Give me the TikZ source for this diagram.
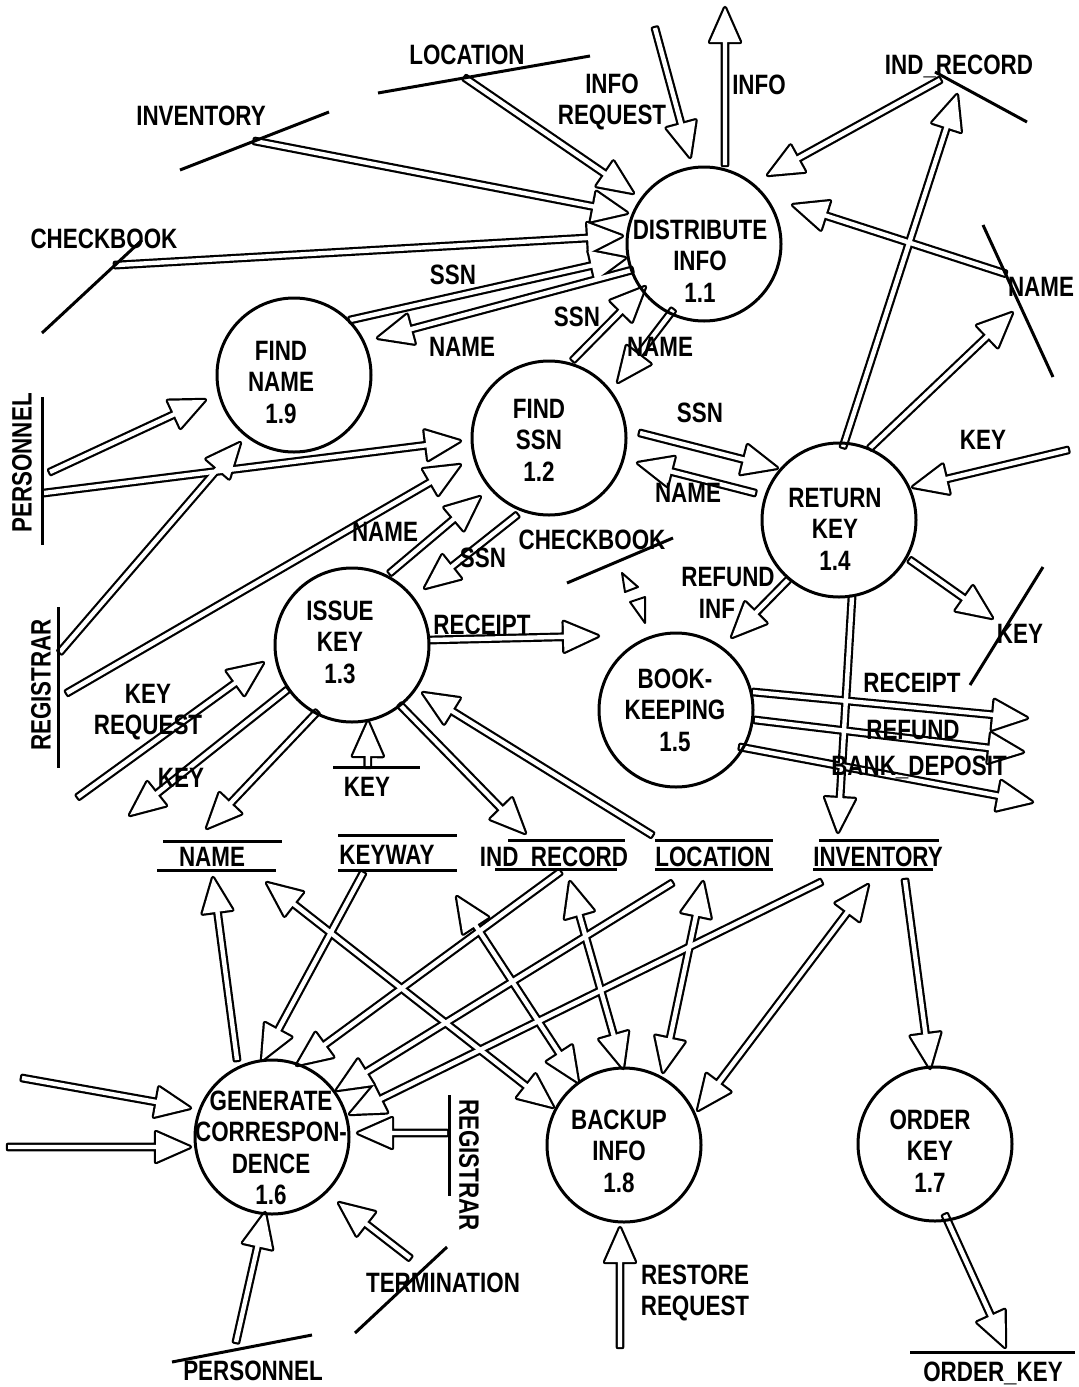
\documentclass[tikz,border=0pt]{standalone}
\usepackage{fontspec}
\newfontfamily\dfd{Liberation Sans}[FakeStretch=0.8, UprightFont=* Bold]
\usetikzlibrary{calc}
\pgfdeclarelayer{back}
\pgfdeclarelayer{flows}
\pgfsetlayers{back,flows,main}

% hollow flow arrows: shaft half width, head half width, head length
\def\aSW{1.1pt}
\def\aHW{7.5pt}
\def\aHL{17pt}

% single-headed hollow arrow from #1 to #2
\newcommand\flowarrow[2]{%
  \coordinate (hA) at (#1);
  \coordinate (hB) at (#2);
  \coordinate (hC) at ($(hB)!\aHL!(hA)$);
  \path[apass] ($(hA)!\aSW!90:(hB)$) -- ($(hC)!\aSW!90:(hB)$) -- ($(hC)!\aHW!90:(hB)$)
    -- (hB) -- ($(hC)!\aHW!-90:(hB)$) -- ($(hC)!\aSW!-90:(hB)$) -- ($(hA)!\aSW!-90:(hB)$) -- cycle;}

% double-headed hollow arrow between #1 and #2
\newcommand\flowboth[2]{%
  \coordinate (hA) at (#1);
  \coordinate (hB) at (#2);
  \coordinate (hC) at ($(hB)!\aHL!(hA)$);
  \coordinate (hD) at ($(hA)!\aHL!(hB)$);
  \path[apass] (hA) -- ($(hD)!\aHW!90:(hB)$) -- ($(hD)!\aSW!90:(hB)$) -- ($(hC)!\aSW!90:(hB)$)
    -- ($(hC)!\aHW!90:(hB)$) -- (hB) -- ($(hC)!\aHW!-90:(hB)$) -- ($(hC)!\aSW!-90:(hB)$)
    -- ($(hD)!\aSW!-90:(hB)$) -- ($(hD)!\aHW!-90:(hB)$) -- cycle;}

% all data flows of the diagram
\newcommand\allflows{%
 \flowarrow{loc1}{$(p11)+(-71,-51)$}%
 \flowarrow{inv1}{$(p11)+(-77,-31)$}%
 \flowarrow{chk1}{$(p11)+(-82,-8)$}%
 \flowarrow{$(p19)+(56,-55)$}{$(p11)+(-79,14)$}%
 \flowarrow{$(p11)+(-72,26)$}{$(p19)+(84,-37)$}%
 \flowarrow{ireq}{$(p11)+(-14,-87)$}%
 \flowarrow{$(p11)+(21,-79)$}{iout}%
 \flowarrow{ind1}{$(p11)+(64,-69)$}%
 \flowarrow{nam1}{$(p11)+(89,-39)$}%
 \flowarrow{$(p14)+(4,-73)$}{ind2}%
 \flowarrow{$(p14)+(31,-72)$}{nam2}%
 \flowarrow{key1}{$(p14)+(74,-33)$}%
 \flowarrow{$(p14)+(71,40)$}{key2}%
 \flowarrow{$(p14)+(-51,60)$}{$(p15)+(56,-73)$}%
 \flowarrow{$(p14)+(13,77)$}{inv2}%
 \flowarrow{$(p15)+(77,-18)$}{rcp}%
 \flowarrow{$(p15)+(79,10)$}{rfd}%
 \flowarrow{$(p15)+(64,37)$}{bnk}%
 \flowarrow{$(p12)+(91,-5)$}{$(p14)+(-62,-52)$}%
 \flowarrow{$(p14)+(-84,-27)$}{$(p12)+(89,25)$}%
 \flowarrow{$(p12)+(24,-78)$}{$(p11)+(-59,43)$}%
 \flowarrow{$(p11)+(-31,66)$}{$(p12)+(69,-56)$}%
 \flowarrow{per1}{$(p19)+(-89,25)$}%
 \flowarrow{per2}{$(p12)+(-89,3)$}%
 \flowarrow{reg1}{$(p19)+(-54,68)$}%
 \flowarrow{reg2}{$(p12)+(-89,27)$}%
 \flowarrow{$(p13)+(38,-72)$}{$(p12)+(-69,59)$}%
 \flowarrow{$(p12)+(-32,77)$}{$(p13)+(73,-57)$}%
 \flowarrow{kreq}{$(p13)+(-89,18)$}%
 \flowarrow{$(p13)+(-65,45)$}{kout}%
 \flowarrow{$(p13)+(-35,67)$}{nam3}%
 \flowarrow{key3}{$(p13)+(16,77)$}%
 \flowarrow{$(p13)+(48,60)$}{ind3}%
 \flowarrow{loc2}{$(p13)+(71,48)$}%
 \flowarrow{$(p13)+(78,-5)$}{$(p15)+(-78,-74)$}%
 \flowarrow{$(p16)+(-35,-77)$}{nam4}%
 \flowarrow{kw1}{$(p16)+(-10,-77)$}%
 \flowboth{nam5}{$(p18)+(-71,-38)$}%
 \flowboth{kw2}{$(p18)+(-46,-63)$}%
 \flowarrow{ind4}{$(p16)+(25,-72)$}%
 \flowboth{ind5}{$(p18)+(-1,-77)$}%
 \flowarrow{loc3}{$(p16)+(65,-47)$}%
 \flowboth{loc4}{$(p18)+(39,-73)$}%
 \flowarrow{inv3}{$(p16)+(78,-23)$}%
 \flowboth{inv4}{$(p18)+(74,-35)$}%
 \flowarrow{inv5}{$(p17)+(-5,-76)$}%
 \flowarrow{$(p17)+(10,71)$}{okey}%
 \flowarrow{rreq}{$(p18)+(-4,83)$}%
 \flowarrow{reg3}{$(p16)+(86,-4)$}%
 \flowarrow{term}{$(p16)+(67,66)$}%
 \flowarrow{per3}{$(p16)+(-7,76)$}%
 \flowarrow{lin1}{$(p16)+(-82,-29)$}%
 \flowarrow{lin2}{$(p16)+(-82,10)$}%
}

\begin{document}
\begin{tikzpicture}[x=0.5pt,y=-0.5pt,
  proc/.style={circle, draw, line width=1.5pt, minimum size=77pt, inner sep=0pt, outer sep=0pt},
  lbl/.style={font=\dfd\fontsize{14}{15.75}\selectfont, inner sep=0pt, align=center},
  storeline/.style={line width=1.5pt},
  tinyhead/.style={draw, fill=white, line width=1pt, line join=round}]

\begin{pgfonlayer}{back}
  \fill[white] (0,0) rectangle (1078,1387);
\end{pgfonlayer}
\useasboundingbox (0,0) rectangle (1078,1387);

% processes
\node[proc] (p11) at (704,244) {};
\node[proc] (p19) at (294,375) {};
\node[proc] (p12) at (549,438) {};
\node[proc] (p14) at (839,520) {};
\node[proc] (p13) at (352,645) {};
\node[proc] (p15) at (676,710) {};
\node[proc] (p16) at (272,1137) {};
\node[proc] (p18) at (624,1145) {};
\node[proc] (p17) at (935,1144) {};

\node[lbl] (t11) at (700,261) {DISTRIBUTE\\INFO\\1.1};
\node[lbl] (t19) at (281,382) {FIND\\NAME\\1.9};
\node[lbl] (t12) at (539,440) {FIND\\SSN\\1.2};
\node[lbl] (t14) at (835,529) {RETURN\\KEY\\1.4};
\node[lbl] (t13) at (340,642) {ISSUE\\KEY\\1.3};
\node[lbl] (t15) at (675,710) {BOOK-\\KEEPING\\1.5};
\node[lbl] (t16) at (271,1148) {GENERATE\\CORRESPON-\\DENCE\\1.6};
\node[lbl] (t18) at (619,1151) {BACKUP\\INFO\\1.8};
\node[lbl] (t17) at (930,1151) {ORDER\\KEY\\1.7};

% stores, sources and sinks
\coordinate (locA) at (378,93);  \coordinate (locB) at (590,56);
\coordinate (invA) at (180,170); \coordinate (invB) at (329,112);
\coordinate (chkA) at (42,333);  \coordinate (chkB) at (142,240);
\coordinate (indA) at (935,72);  \coordinate (indB) at (1027,122);
\coordinate (namA) at (983,225); \coordinate (namB) at (1053,377);
\coordinate (keyA) at (970,685); \coordinate (keyB) at (1043,567);
\coordinate (perA) at (42,397);  \coordinate (perB) at (42,545);
\coordinate (regA) at (58,607);  \coordinate (regB) at (58,768);
\coordinate (keyC) at (333,767); \coordinate (keyD) at (420,767);
\coordinate (chmA) at (567,583); \coordinate (chmB) at (673,538);
\coordinate (rgrA) at (449,1095); \coordinate (rgrB) at (449,1196);
\coordinate (trmA) at (355,1333); \coordinate (trmB) at (447,1247);
\coordinate (pbtA) at (172,1362); \coordinate (pbtB) at (312,1335);
\coordinate (okA) at (910,1352); \coordinate (okB) at (1075,1352);

\draw[storeline] (locA) -- (locB);
\draw[storeline] (invA) -- (invB);
\draw[storeline] (chkA) -- (chkB);
\draw[storeline] (indA) -- (indB);
\draw[storeline] (namA) -- (namB);
\draw[storeline] (keyA) -- (keyB);
\draw[storeline] (perA) -- (perB);
\draw[storeline] (regA) -- (regB);
\draw[storeline] (keyC) -- (keyD);
\draw[storeline] (chmA) -- (chmB);
\draw[storeline] (rgrA) -- (rgrB);
\draw[storeline] (trmA) -- (trmB);
\draw[storeline] (pbtA) -- (pbtB);
\draw[storeline] (okA) -- (okB);

% bottom row of data stores
\draw[storeline] (163,841) -- (282,841);  \draw[storeline] (157,870) -- (276,870);
\draw[storeline] (338,835) -- (457,835);  \draw[storeline] (338,870) -- (457,870);
\draw[storeline] (508,840) -- (625,840);  \draw[storeline] (495,869) -- (617,869);
\draw[storeline] (655,840) -- (773,840);  \draw[storeline] (655,869) -- (773,869);
\draw[storeline] (819,840) -- (939,840);  \draw[storeline] (813,869) -- (933,869);

% flow end points
\coordinate (loc1) at ($(locA)!0.41!(locB)$);
\coordinate (inv1) at ($(invA)!0.5!(invB)$);
\coordinate (chk1) at ($(chkA)!0.73!(chkB)$);
\coordinate (ireq) at (655,28);
\coordinate (iout) at (725,8);
\coordinate (ind1) at (940,80);
\coordinate (ind2) at (957,95);
\coordinate (nam1) at ($(namA)!0.32!(namB)$);
\coordinate (nam2) at (1012,313);
\coordinate (key1) at (1068,450);
\coordinate (key2) at (992,618);
\coordinate (rcp) at (1027,718);
\coordinate (rfd) at (1023,752);
\coordinate (bnk) at (1032,802);
\coordinate (inv2) at (838,832);
\coordinate (per1) at (50,472);
\coordinate (per2) at (44,493);
\coordinate (reg1) at (60,652);
\coordinate (reg2) at (67,693);
\coordinate (kreq) at (78,797);
\coordinate (kout) at (130,815);
\coordinate (nam3) at (207,828);
\coordinate (key3) at ($(keyC)!0.4!(keyD)$);
\coordinate (ind3) at (525,833);
\coordinate (loc2) at (652,835);
\coordinate (nam4) at (213,878);
\coordinate (kw1) at (363,873);
\coordinate (nam5) at (267,883);
\coordinate (kw2) at (457,897);
\coordinate (ind4) at (560,872);
\coordinate (ind5) at (570,882);
\coordinate (loc3) at (672,883);
\coordinate (loc4) at (703,882);
\coordinate (inv3) at (821,882);
\coordinate (inv4) at (868,885);
\coordinate (inv5) at (905,880);
\coordinate (okey) at (1005,1347);
\coordinate (rreq) at (620,1347);
\coordinate (reg3) at (447,1133);
\coordinate (term) at (410,1258);
\coordinate (per3) at (236,1342);
\coordinate (lin1) at (22,1078);
\coordinate (lin2) at (8,1147);

% hollow arrows: outlines first, then white interiors so crossings merge
\begin{pgfonlayer}{flows}
  \tikzset{apass/.style={draw=black, line width=2.2pt, line join=round}}
  \allflows
  \tikzset{apass/.style={fill=white}}
  \allflows
\end{pgfonlayer}

% small marks under the middle CHECKBOOK
\path[tinyhead] (622,573) -- (625,592) -- (638,587) -- cycle;
\path[tinyhead] (630,602) -- (645,597) -- (645,623) -- cycle;

% labels
\node[lbl] (lLoc) at (467,55) {LOCATION};
\node[lbl] (lInv) at (201,116) {INVENTORY};
\node[lbl] (lChk) at (104,239) {CHECKBOOK};
\node[lbl] (lIrq) at (612,102) {INFO\\REQUEST};
\node[lbl] (lIot) at (759,85) {INFO};
\node[lbl] (lInd) at (959,66) {IND\_RECORD};
\node[lbl] (lNmR) at (1041,287) {NAME};
\node[lbl] (f1) at (453,275) {SSN};
\node[lbl] (f2) at (462,347) {NAME};
\node[lbl] (f3) at (577,317) {SSN};
\node[lbl] (f4) at (660,347) {NAME};
\node[lbl] (f5) at (700,413) {SSN};
\node[lbl] (f6) at (688,493) {NAME};
\node[lbl] (f7) at (983,440) {KEY};
\node[lbl] (lKey) at (1020,634) {KEY};
\node[lbl] (f8) at (728,577) {REFUND};
\node[lbl] (f9) at (717,609) {INF};
\node[lbl] (f10) at (912,683) {RECEIPT};
\node[lbl] (f11) at (913,730) {REFUND};
\node[lbl] (f12) at (919,767) {BANK\_DEPOSIT};
\node[lbl] (f13) at (385,532) {NAME};
\node[lbl] (f14) at (483,558) {SSN};
\node[lbl] (lChm) at (592,540) {CHECKBOOK};
\node[lbl] (f15) at (482,625) {RECEIPT};
\node[lbl] (f16) at (148,712) {KEY\\REQUEST};
\node[lbl] (f17) at (181,778) {KEY};
\node[lbl] (lKyB) at (367,787) {KEY};
\node[lbl] (sNm) at (212,857) {NAME};
\node[lbl] (sKw) at (387,855) {KEYWAY};
\node[lbl] (sIr) at (554,858) {IND\_RECORD};
\node[lbl] (sLc) at (713,857) {LOCATION};
\node[lbl] (sIv) at (878,857) {INVENTORY};
\node[lbl, rotate=90] (lPer) at (22,463) {PERSONNEL};
\node[lbl, rotate=90] (lReg) at (41,685) {REGISTRAR};
\node[lbl, rotate=-90] (lRgR) at (469,1165) {REGISTRAR};
\node[lbl] (lTrm) at (443,1283) {TERMINATION};
\node[lbl] (lPeB) at (253,1371) {PERSONNEL};
\node[lbl] (f18) at (695,1293) {RESTORE\\REQUEST};
\node[lbl] (lOk) at (993,1373) {ORDER\_KEY};
\end{tikzpicture}
\end{document}
